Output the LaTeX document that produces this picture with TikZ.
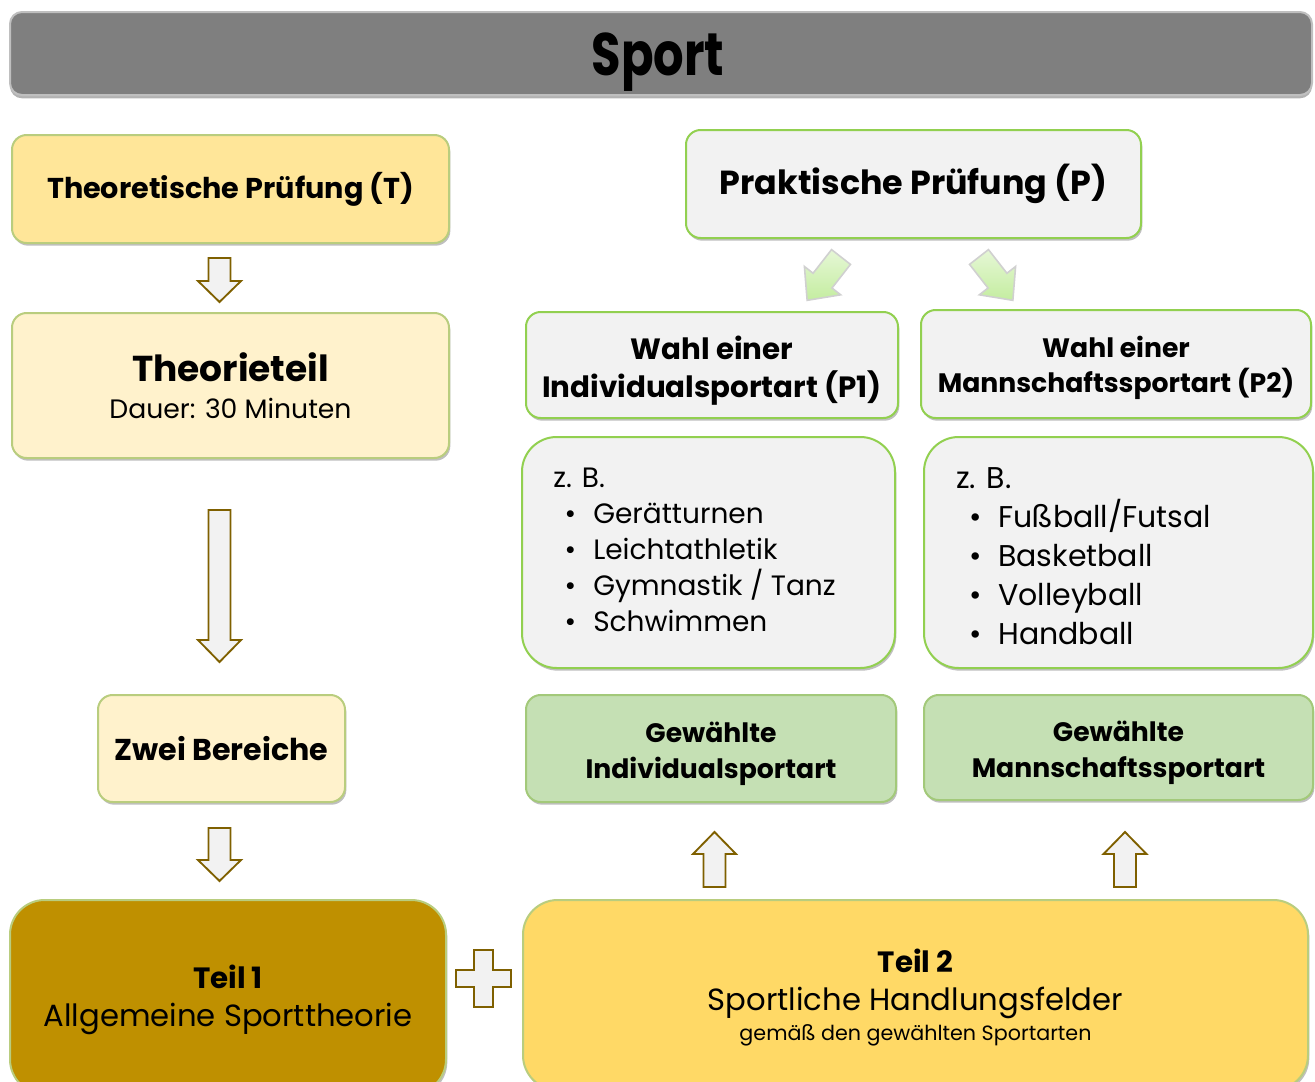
\documentclass[tikz,border=0pt]{standalone}
\usepackage{fontspec}
\setmainfont{Poppins}
\newfontfamily\titlefont[FakeStretch=0.8]{Poppins}
\usetikzlibrary{shadows}
\definecolor{titlegray}{HTML}{7F7F7F}
\definecolor{titleline}{HTML}{BFBFBF}
\definecolor{yelT}{HTML}{FFE699}
\definecolor{cream}{HTML}{FFF2CC}
\definecolor{gold}{HTML}{BF9000}
\definecolor{yelTwo}{HTML}{FFD966}
\definecolor{lgray}{HTML}{F2F2F2}
\definecolor{gfill}{HTML}{C5E0B4}
\definecolor{gline}{HTML}{92D050}
\definecolor{gline2}{HTML}{A3C97A}
\definecolor{oline}{HTML}{B9CD7E}
\definecolor{brown}{HTML}{7F6000}
\definecolor{arrowgA}{HTML}{E6F7D6}
\definecolor{arrowgB}{HTML}{C4EDA0}
\definecolor{arrowline}{HTML}{D0D0D0}
\tikzset{
  x=0.75pt, y=-0.75pt,
  boxbase/.style={rectangle, rounded corners=11pt, line width=1.5pt, align=center, inner sep=0pt,
    drop shadow={shadow xshift=1pt, shadow yshift=-2pt, opacity=0.25, fill=black}},
  ybox/.style={boxbase, draw=oline, fill=#1},
  gbox/.style={boxbase, draw=gline, fill=#1},
  txt/.style={inner sep=0pt, align=center},
  barrow/.style={draw=brown, line width=1.4pt, fill=lgray, line join=miter},
  garrow/.style={draw=arrowline, line width=1.2pt, top color=arrowgA, bottom color=arrowgB, line join=miter},
}
\newcommand{\BlockArr}[5][barrow]{%
  \draw[#1] (0,-#3) -- (#2-#5,-#3) -- (#2-#5,-#4) -- (#2,0) -- (#2-#5,#4) -- (#2-#5,#3) -- (0,#3) -- cycle;}
\newcommand{\bulA}[1]{\makebox[25.5pt][c]{•}\hspace{4.5pt}#1}
\newcommand{\bulB}[1]{\makebox[28.5pt][c]{•}\hspace{3pt}#1}
\begin{document}
\begin{tikzpicture}
\useasboundingbox (0,0) rectangle (1315,1082);
\begin{scope}
\clip (0,0) rectangle (1315,1082);
% title
\node[rectangle, rounded corners=9pt, draw=titleline, line width=1.5pt, fill=titlegray,
  minimum width=976.5pt, minimum height=62.25pt,
  drop shadow={shadow xshift=0pt, shadow yshift=-2.5pt, opacity=0.3, fill=black}] (title) at (661,53.5) {};
\node[inner sep=0pt, text depth=0pt, font=\titlefont\fontsize{45pt}{50pt}\selectfont\bfseries] (titletext) at (658,54) {Sport};

% left column
\node[ybox=yelT, minimum width=327.75pt, minimum height=81pt, font=\fontsize{21.5pt}{25pt}\selectfont\bfseries] (T) at (230.5,189)
  {Theoretische Prüfung (T)};
\node[ybox=cream, minimum width=327.75pt, minimum height=108.75pt, font=\fontsize{20pt}{28pt}\selectfont] (TT) at (230.5,385.5)
  {{\fontsize{27pt}{28pt}\selectfont\bfseries Theorieteil}\\Dauer: 30 Minuten};
\node[ybox=cream, minimum width=185.25pt, minimum height=80.25pt, font=\fontsize{22.6pt}{25pt}\selectfont\bfseries] (Z) at (221.5,748.5)
  {Zwei Bereiche};
\node[boxbase, rounded corners=26pt, draw=oline, fill=gold, minimum width=327pt, minimum height=145.5pt] (T1) at (228,997) {};
\node[txt, font=\fontsize{23pt}{29pt}\selectfont] (T1t) at (228,1000)
  {{\fontsize{22pt}{29pt}\selectfont\bfseries Teil 1}\\Allgemeine Sporttheorie};
\node[boxbase, rounded corners=26pt, draw=oline, fill=yelTwo, minimum width=588.75pt, minimum height=142.5pt] (T2) at (915.5,995) {};
\node[txt, font=\fontsize{23pt}{28.5pt}\selectfont] (T2t) at (915.5,998)
  {{\bfseries\fontsize{22pt}{28.5pt}\selectfont Teil 2}\\Sportliche Handlungsfelder\\[-6pt]{\fontsize{15.5pt}{18pt}\selectfont gemäß den gewählten Sportarten}};

% right column
\node[gbox=lgray, minimum width=341.25pt, minimum height=81pt, font=\fontsize{25pt}{30pt}\selectfont\bfseries] (P) at (913.5,184)
  {Praktische Prüfung (P)};
\node[gbox=lgray, minimum width=279pt, minimum height=79.5pt] (P1) at (712,365) {};
\node[txt, font=\fontsize{22pt}{28.5pt}\selectfont\bfseries] (P1t) at (712,371) {Wahl einer\\Individualsportart (P1)};
\node[gbox=lgray, minimum width=292.5pt, minimum height=81pt] (P2) at (1116,364) {};
\node[txt, font=\fontsize{20pt}{26pt}\selectfont\bfseries] (P2t) at (1116,368) {Wahl einer\\Mannschaftssportart (P2)};
\node[gbox=lgray, rounded corners=26pt, minimum width=279.75pt, minimum height=173.25pt] (L1) at (708.5,552.5) {};
\node[gbox=lgray, rounded corners=26pt, minimum width=291.75pt, minimum height=173.25pt] (L2) at (1118.5,552.5) {};
\node[anchor=north west, align=left, inner sep=0pt, font=\fontsize{21pt}{27pt}\selectfont] (L1t) at (553,468)
  {z. B.\\ \bulA{Gerätturnen}\\ \bulA{Leichtathletik}\\ \bulA{Gymnastik / Tanz}\\ \bulA{Schwimmen}};
\node[anchor=north west, align=left, inner sep=0pt, font=\fontsize{22.5pt}{29.25pt}\selectfont] (L2t) at (956,467)
  {z. B.\\ \bulB{Fußball/Futsal}\\ \bulB{Basketball}\\ \bulB{Volleyball}\\ \bulB{Handball}};
\node[boxbase, draw=gline2, fill=gfill, minimum width=277.5pt, minimum height=80.25pt] (G1) at (711,748.5) {};
\node[txt, font=\fontsize{20pt}{27pt}\selectfont\bfseries] (G1t) at (711,753.5) {Gewählte\\Individualsportart};
\node[boxbase, draw=gline2, fill=gfill, minimum width=291.75pt, minimum height=78.75pt] (G2) at (1118.5,747.5) {};
\node[txt, font=\fontsize{20pt}{27pt}\selectfont\bfseries] (G2t) at (1118.5,752.5) {Gewählte\\Mannschaftssportart};

% block arrows (down)
\begin{scope}[shift={(219.5,258)}, rotate=-90]\BlockArr{44}{11}{21.5}{21}\end{scope}
\begin{scope}[shift={(219.5,510)}, rotate=-90]\BlockArr{152}{11}{21.5}{22}\end{scope}
\begin{scope}[shift={(219.5,828)}, rotate=-90]\BlockArr{53}{11}{21.5}{21}\end{scope}
% up arrows
\begin{scope}[shift={(714.5,887)}, rotate=90]\BlockArr{55}{11}{21.5}{22}\end{scope}
\begin{scope}[shift={(1125,887)}, rotate=90]\BlockArr{55}{11}{21.5}{22}\end{scope}
% plus
\draw[barrow] (474,950) -- (493,950) -- (493,970) -- (511,970) -- (511,987) -- (493,987) -- (493,1007)
  -- (474,1007) -- (474,987) -- (456,987) -- (456,970) -- (474,970) -- cycle;
% green diagonal arrows
\begin{scope}[shift={(841,257)}, rotate=-128]\BlockArr[garrow]{55}{12}{23}{25}\end{scope}
\begin{scope}[shift={(979,257)}, rotate=-52]\BlockArr[garrow]{55}{12}{23}{25}\end{scope}
\end{scope}
\end{tikzpicture}
\end{document}
